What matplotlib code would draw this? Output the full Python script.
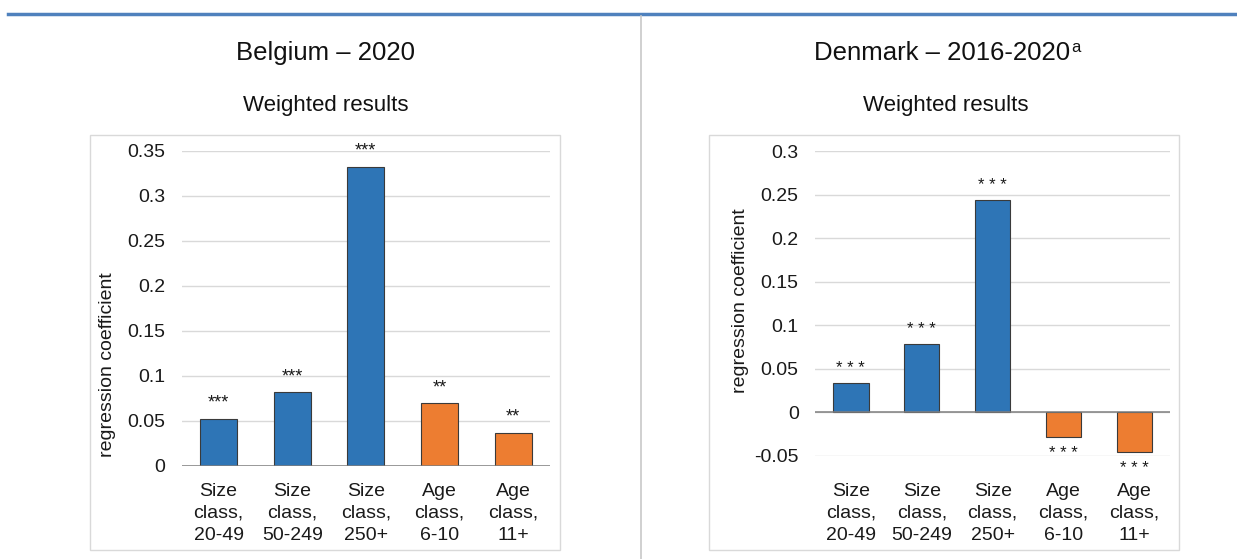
import matplotlib.pyplot as plt
from matplotlib.patches import Rectangle
from matplotlib.lines import Line2D

# regression coefficients by firm size / age class
categories = ["Size\nclass,\n20-49", "Size\nclass,\n50-249", "Size\nclass,\n250+",
              "Age\nclass,\n6-10", "Age\nclass,\n11+"]
belgium_coef = [0.0525, 0.082, 0.332, 0.070, 0.037]
belgium_sig = ["***", "***", "***", "**", "**"]
denmark_coef = [0.033, 0.078, 0.244, -0.029, -0.046]
denmark_sig = ["* * *", "* * *", "* * *", "* * *", "* * *"]
bar_colors = ["#2e75b6", "#2e75b6", "#2e75b6", "#ed7d31", "#ed7d31"]

plt.rcParams["font.family"] = ["Liberation Sans", "DejaVu Sans"]

W, H = 1237, 559
fig = plt.figure(figsize=(W / 100, H / 100), dpi=100)


def px(x0, y0, x1, y1):
    # pixel box -> figure fraction rect
    return [x0 / W, 1 - y1 / H, (x1 - x0) / W, (y1 - y0) / H]


# header rule and panel separator
fig.add_artist(Line2D([8 / W, 1], [1 - 14 / H, 1 - 14 / H], color="#4f81bd", lw=2.5))
fig.add_artist(Line2D([641 / W, 641 / W], [0, 1 - 16 / H], color="#c8c8c8", lw=1.2))

# chart frames
for x0 in (90, 709):
    fig.add_artist(Rectangle((x0 / W, 1 - 550 / H), 470 / W, 415 / H,
                             transform=fig.transFigure, fill=False,
                             edgecolor="#d9d9d9", lw=1))


def draw_panel(rect, values, stars, ylim, yticks, ticklabels, xpad, ylabel_xy, star_size):
    ax = fig.add_axes(rect)
    x = range(len(values))
    ax.bar(x, values, width=0.5, color=bar_colors, edgecolor="#3a3a3a", linewidth=0.8, zorder=3)
    ax.set_xlim(-0.5, len(values) - 0.5)
    ax.set_ylim(*ylim)
    ax.set_yticks(yticks)
    ax.set_yticklabels(ticklabels)
    ax.set_xticks(list(x))
    ax.set_xticklabels(categories, linespacing=1.4)
    for s in ax.spines.values():
        s.set_visible(False)
    ax.grid(axis="y", color="#d9d9d9", lw=1, zorder=0)
    ax.axhline(0, color="#7f7f7f", lw=1.1, zorder=4)
    ax.tick_params(axis="both", length=0, labelsize=14, colors="#1a1a1a")
    ax.tick_params(axis="x", pad=xpad)
    ax.tick_params(axis="y", pad=12)
    ax.set_ylabel("regression coefficient", fontsize=14, color="#1a1a1a")
    ax.yaxis.set_label_coords(*ylabel_xy)
    # significance stars above positive bars, below negative ones
    for i, (v, s) in enumerate(zip(values, stars)):
        if v >= 0:
            ax.annotate(s, (i, v), xytext=(0, 5), textcoords="offset points",
                        ha="center", va="bottom", fontsize=star_size, color="#1a1a1a")
        else:
            ax.annotate(s, (i, v), xytext=(0, -6), textcoords="offset points",
                        ha="center", va="top", fontsize=star_size, color="#1a1a1a")
    return ax


draw_panel(px(181.7, 150.7, 550, 466), belgium_coef, belgium_sig, (0, 0.35),
           [0, 0.05, 0.1, 0.15, 0.2, 0.25, 0.3, 0.35],
           ["0", "0.05", "0.1", "0.15", "0.2", "0.25", "0.3", "0.35"],
           12, (-0.178, 0.32), 13)

draw_panel(px(815.3, 151, 1170, 455.7), denmark_coef, denmark_sig, (-0.05, 0.3),
           [-0.05, 0, 0.05, 0.1, 0.15, 0.2, 0.25, 0.3],
           ["-0.05", "0", "0.05", "0.1", "0.15", "0.2", "0.25", "0.3"],
           19.5, (-0.187, 0.51), 12)

# panel headings
fig.text(326 / W, 1 - 53 / H, "Belgium – 2020", ha="center", va="center",
         fontsize=18.5, color="#111111")
t = fig.text(942 / W, 1 - 53 / H, "Denmark – 2016-2020", ha="center", va="center",
             fontsize=18.5, color="#111111")
plt.annotate("a", xy=(1, 0.42), xycoords=t, xytext=(1, 0), textcoords="offset points",
             ha="left", va="bottom", fontsize=12, color="#111111")
for cx in (326, 946):
    fig.text(cx / W, 1 - 105 / H, "Weighted results", ha="center", va="center",
             fontsize=16, color="#111111")

fig.savefig("out.png", dpi=100)
